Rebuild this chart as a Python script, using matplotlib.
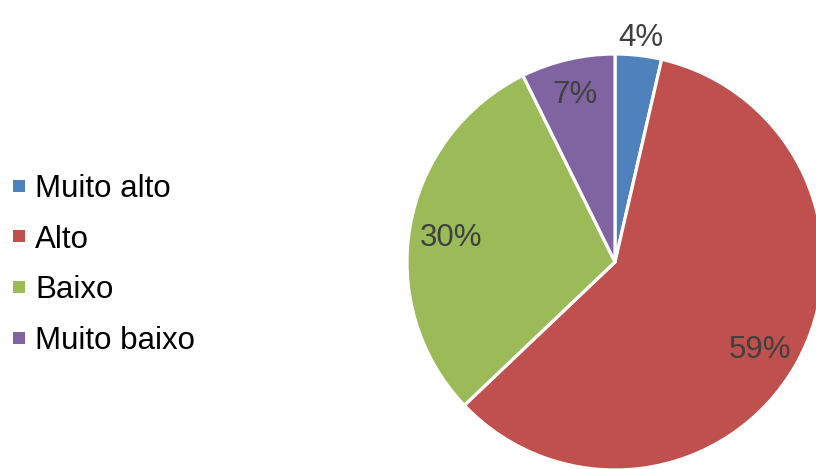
import numpy as np
import matplotlib.pyplot as plt
from matplotlib.patches import Rectangle

plt.rcParams['font.family'] = ['Liberation Sans', 'DejaVu Sans']

# risk levels and their shares (%)
categories = ['Muito alto', 'Alto', 'Baixo', 'Muito baixo']
shares = [3.6, 59.3, 29.8, 7.3]
colors = ['#4F81BD', '#C0504D', '#9BBB59', '#8064A2']
label_dist = [1.11, 0.80, 0.80, 0.85]

W, H = 816, 469
fig = plt.figure(figsize=(W / 100, H / 100), dpi=100)
ax = fig.add_axes([0, 0, 1, 1])

wedges, _ = ax.pie(shares, colors=colors, startangle=90, counterclock=False,
                   radius=1.0, wedgeprops=dict(edgecolor='white', linewidth=2.3))

# pie centre and radius in pixels (pie runs off the right/bottom edge)
cx, cy, r = 615, 262, 208
ax.set_xlim(-cx / r, (W - cx) / r)
ax.set_ylim(-(H - cy) / r, cy / r)
ax.set_aspect('equal')
ax.axis('off')

total = sum(shares)
for w, v, d in zip(wedges, shares, label_dist):
    mid = np.deg2rad((w.theta1 + w.theta2) / 2)
    ax.text(d * np.cos(mid), d * np.sin(mid) - 0.025, f'{v / total * 100:.0f}%',
            ha='center', va='center', fontsize=22.5, color='#404040')

# legend on the left
for i, (name, c) in enumerate(zip(categories, colors)):
    base = 197 + i * 50.5
    fig.patches.append(Rectangle((13 / W, 1 - (base - 5) / H), 12 / W, 12 / H,
                                 transform=fig.transFigure, facecolor=c,
                                 edgecolor='none'))
    fig.text(35 / W, 1 - base / H, name, ha='left', va='baseline',
             fontsize=22.5, color='black')

fig.savefig('out.png', dpi=100)
